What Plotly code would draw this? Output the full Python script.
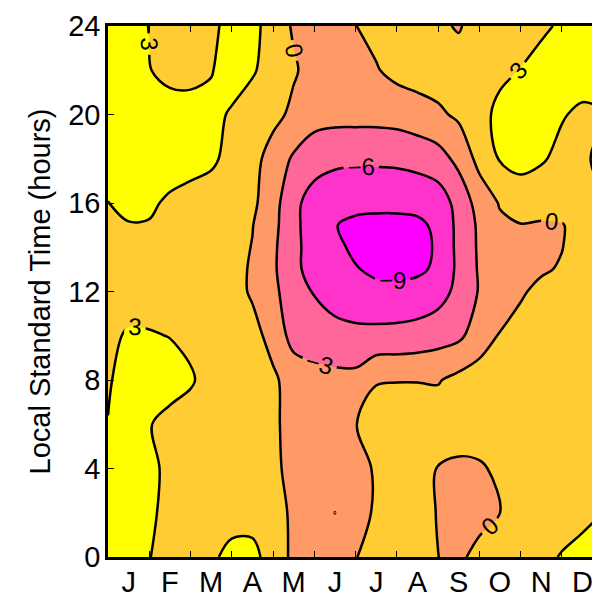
import plotly.graph_objects as go

# grid positions (months from start of Jan, hours LST)
month_pos = [0, 0.5, 1, 1.5, 2, 2.5, 3, 3.5, 4, 4.5, 5, 5.5, 6, 6.5, 7, 7.5, 8, 8.5, 9, 9.5, 10, 10.5, 11, 11.5, 12]
hours = [0, 2, 4, 6, 8, 10, 12, 13, 14, 15, 16, 18, 20, 22, 24]
month_labels = ["J", "F", "M", "A", "M", "J", "J", "A", "S", "O", "N", "D"]
levels = [-9, -6, -3, 0, 3]

h00 = [4.5, 4.2, 3.05, 2.4, 2.4, 2.7, 3.5, 3.9, 1.6, -0.6, -1.4, -1.6, -0.1, 1.0, 1.4, 1.2, 0.02, -0.5, 0.8, 1.8, 2.2, 2.6, 3.1, 3.6, 3.8]
h02 = [4.3, 4.2, 3.3, 2.5, 2.2, 2.2, 2.3, 1.8, 0.9, -0.4, -1.4, -3.02, -1.2, 0.4, 1.1, 0.8, -0.1, -1.0, -0.9, -0.05, 1.0, 1.8, 2.3, 2.5, 3.0]
h04 = [4.2, 4.0, 3.4, 2.6, 2.2, 2.0, 1.8, 1.3, 0.5, -0.7, -1.4, -1.6, -1.0, 0.3, 1.2, 0.9, -0.1, -0.6, -0.4, 0.6, 1.5, 1.9, 2.2, 2.6, 2.9]
h06 = [3.05, 3.8, 3.1, 2.4, 2.2, 2.0, 1.7, 1.2, 0.4, -0.8, -1.4, -1.2, -0.1, 1.4, 1.6, 1.6, 1.6, 1.6, 1.7, 1.6, 1.6, 1.7, 1.9, 2.1, 2.4]
h08 = [2.8, 3.8, 4.0, 3.8, 3.2, 2.3, 1.9, 1.3, 0.4, -1.0, -1.9, -2.2, -2.2, -0.2, -0.1, -0.1, -0.2, 0.8, 1.4, 1.6, 1.4, 1.2, 0.8, 1.5, 2.0]
h10 = [2.6, 3.2, 3.15, 2.95, 2.6, 2.2, 1.7, 0.8, -0.8, -4.2, -4.6, -4.9, -5.1, -5.2, -5.1, -4.8, -4.2, -3.6, -1.5, 0.2, 1.2, 1.5, 1.4, 1.8, 2.2]
h12 = [2.2, 2.2, 2.1, 1.9, 1.7, 1.5, 0.9, -0.3, -2.4, -4.4, -6.2, -7.4, -8.2, -8.2, -8.2, -8.0, -7.2, -5.2, -2.8, -1.7, -0.4, 0.8, 1.6, 2.0, 2.4]
h13 = [2.3, 2.2, 2.05, 1.9, 1.75, 1.55, 0.9, -0.3, -2.5, -5.3, -7.1, -8.0, -8.8, -9.6, -9.8, -9.5, -8.5, -5.3, -2.7, -1.6, -0.9, -0.4, 0.3, 1.5, 2.2]
h14 = [2.4, 2.2, 2.0, 1.9, 1.8, 1.6, 1.0, -0.1, -2.4, -5.4, -7.0, -8.3, -9.6, -10.5, -10.8, -10.0, -8.6, -5.2, -2.6, -1.6, -1.2, -1.2, -0.1, 1.4, 2.0]
h15 = [2.6, 2.9, 2.85, 2.3, 2.0, 1.8, 1.3, 0.1, -2.1, -5.3, -7.4, -8.9, -9.6, -9.9, -9.9, -9.6, -8.4, -5.2, -2.5, -0.5, -0.1, -0.3, -0.2, 1.3, 2.2]
h16 = [2.95, 3.5, 3.4, 2.6, 2.2, 1.9, 1.4, 0.6, -1.8, -5.3, -7.2, -7.8, -8.2, -8.2, -8.2, -8.1, -7.6, -5.0, -1.8, 0.2, 1.2, 1.2, 1.8, 2.2, 2.8]
h18 = [4.3, 4.4, 4.4, 4.2, 3.8, 3.4, 2.3, 1.0, -1.2, -3.4, -4.8, -5.4, -5.5, -5.5, -5.4, -5.0, -4.2, -2.2, 0.9, 3.2, 4.0, 3.3, 2.3, 2.6, 3.6]
h20 = [4.6, 4.6, 4.5, 4.2, 3.9, 3.5, 2.8, 1.6, 0.8, -0.6, -1.8, -2.0, -2.0, -2.0, -1.8, -1.2, -0.5, 0.5, 2.2, 3.6, 4.2, 4.0, 3.2, 2.5, 2.8]
h22 = [4.5, 4.0, 3.1, 2.2, 2.3, 2.9, 3.8, 3.3, 1.8, 0.3, -1.0, -1.8, -1.2, -0.2, 0.8, 1.2, 1.4, 1.6, 2.0, 2.5, 3.05, 3.8, 4.2, 4.3, 4.3]
h24 = [4.5, 3.8, 2.95, 2.3, 2.3, 2.6, 3.6, 4.0, 1.5, -0.3, -1.5, -1.5, -0.05, 0.8, 1.4, 1.5, 0.6, -0.3, 1.5, 2.0, 2.3, 2.6, 3.3, 4.0, 4.2]

z = [h00, h02, h04, h06, h08, h10, h12, h13, h14, h15, h16, h18, h20, h22, h24]

# MATLAB "spring" colours for the six bands
band_colors = ["#FF00FF", "#FF33CC", "#FF6699", "#FF9966", "#FFCC33", "#FFFF00"]
cuts = [0, 0.15, 0.35, 0.55, 0.75, 0.95, 1.0]
colorscale = []
for i, c in enumerate(band_colors):
    colorscale.append([cuts[i], c])
    colorscale.append([cuts[i + 1], c])

FONT = "Liberation Sans, Arial, sans-serif"

fig = go.Figure(go.Contour(
    x=month_pos, y=hours, z=z,
    colorscale=colorscale, showscale=False,
    contours=dict(start=levels[0], end=levels[-1], size=3, coloring="fill",
                  showlabels=True,
                  labelfont=dict(size=24, color="black", family=FONT)),
    line=dict(color="black", width=2.5, smoothing=1.0),
    hoverinfo="skip",
))

fig.update_layout(
    width=600, height=600,
    margin=dict(l=100, r=2, t=12, b=51),
    paper_bgcolor="white", plot_bgcolor="white",
    font=dict(family=FONT, size=29, color="black"),
    showlegend=False,
)
fig.update_xaxes(
    range=[0, 12],
    tickvals=[i + 0.5 for i in range(12)], ticktext=month_labels,
    ticks="", showgrid=False, zeroline=False,
    showline=True, linecolor="black", linewidth=2.5, mirror="ticks",
    minor=dict(tickvals=list(range(1, 12)), ticks="inside", ticklen=6,
               tickcolor="black", tickwidth=1, showgrid=False),
    tickfont=dict(size=29), ticklabelstandoff=-3, ticklabeloverflow="allow",
)
fig.update_yaxes(
    range=[0, 24], tickvals=[0, 4, 8, 12, 16, 20, 24],
    ticks="inside", ticklen=6, tickcolor="black", tickwidth=1,
    showgrid=False, zeroline=False,
    showline=True, linecolor="black", linewidth=2.5, mirror="ticks",
    title=dict(text="Local Standard Time (hours)", font=dict(size=29), standoff=10),
    tickfont=dict(size=29), ticklabelstandoff=-1, ticklabeloverflow="allow",
)

fig.write_html("out.html")
